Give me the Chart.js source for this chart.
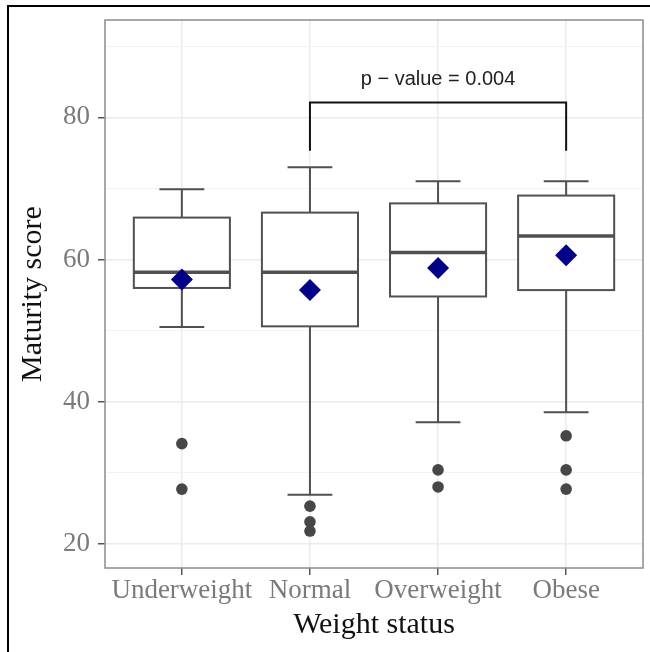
<!DOCTYPE html>
<html>
<head>
<meta charset="utf-8">
<script src="https://cdn.jsdelivr.net/npm/chart.js@4/dist/chart.umd.min.js"></script>
<style>
  html, body { margin: 0; padding: 0; background: #fff; }
  #wrap { position: relative; width: 650px; height: 652px; overflow: hidden; }
  #frame { position: absolute; left: 7px; top: 5px; width: 700px; height: 700px;
           border-left: 2px solid #000; border-top: 2px solid #000; pointer-events: none; }
</style>
</head>
<body>
<div id="wrap">
  <canvas id="chart" width="650" height="652"></canvas>
  <div id="frame"></div>
</div>
<script>
// Box plot data
const categories = ["Underweight", "Normal", "Overweight", "Obese"];
const upperWhisker = [69.9, 73.0, 71.0, 71.0];
const q3 = [65.9, 66.6, 67.9, 69.0];
const median = [58.2, 58.2, 61.0, 63.3];
const q1 = [56.0, 50.6, 54.8, 55.7];
const lowerWhisker = [50.5, 26.9, 37.1, 38.5];
const means = [57.2, 55.7, 58.8, 60.6];
const outliers = [[34.1, 27.7], [25.3, 23.1, 21.8], [30.4, 28.0], [35.2, 30.4, 27.7]];

// axis ticks
const yMajorTicks = [20, 40, 60, 80];
const yMinorTicks = [30, 50, 70, 90];

// significance bracket
const bracketFrom = 1;
const bracketTo = 3;
const bracketTop = 82.1;
const bracketBottom = 75.3;
const pLabel = "p \u2212 value = 0.004";
const pLabelY = 85.4;

const serif = "'Liberation Serif', 'Times New Roman', serif";
const boxColor = "#505050";

// Draws boxes, whiskers and medians using the chart's scales
const boxPlugin = {
  id: "boxes",
  beforeDatasetsDraw(chart) {
    const { ctx, scales: { x, y } } = chart;
    const unit = x.getPixelForValue(1) - x.getPixelForValue(0);
    const halfBox = unit * 0.375;
    const halfCap = unit * 0.175;
    ctx.save();
    ctx.strokeStyle = boxColor;
    categories.forEach((c, i) => {
      const cx = x.getPixelForValue(i);
      const yUp = y.getPixelForValue(upperWhisker[i]);
      const yQ3 = y.getPixelForValue(q3[i]);
      const yMed = y.getPixelForValue(median[i]);
      const yQ1 = y.getPixelForValue(q1[i]);
      const yLo = y.getPixelForValue(lowerWhisker[i]);

      // whiskers
      ctx.lineWidth = 2;
      ctx.beginPath();
      ctx.moveTo(cx, yQ3); ctx.lineTo(cx, yUp);
      ctx.moveTo(cx, yQ1); ctx.lineTo(cx, yLo);
      ctx.moveTo(cx - halfCap, yUp); ctx.lineTo(cx + halfCap, yUp);
      ctx.moveTo(cx - halfCap, yLo); ctx.lineTo(cx + halfCap, yLo);
      ctx.stroke();

      // box
      ctx.fillStyle = "#fff";
      ctx.fillRect(cx - halfBox, yQ3, halfBox * 2, yQ1 - yQ3);
      ctx.lineWidth = 2;
      ctx.strokeRect(cx - halfBox, yQ3, halfBox * 2, yQ1 - yQ3);

      // median
      ctx.lineWidth = 3.5;
      ctx.beginPath();
      ctx.moveTo(cx - halfBox, yMed); ctx.lineTo(cx + halfBox, yMed);
      ctx.stroke();
    });
    ctx.restore();
  },
  afterDatasetsDraw(chart) {
    const { ctx, chartArea, scales: { x, y } } = chart;
    ctx.save();
    // bracket
    const x1 = x.getPixelForValue(bracketFrom);
    const x2 = x.getPixelForValue(bracketTo);
    const yt = y.getPixelForValue(bracketTop);
    const yb = y.getPixelForValue(bracketBottom);
    ctx.strokeStyle = "#111";
    ctx.lineWidth = 2;
    ctx.beginPath();
    ctx.moveTo(x1, yb); ctx.lineTo(x1, yt); ctx.lineTo(x2, yt); ctx.lineTo(x2, yb);
    ctx.stroke();
    ctx.fillStyle = "#222";
    ctx.font = "20px 'Liberation Sans', Arial, sans-serif";
    ctx.textAlign = "center";
    ctx.textBaseline = "middle";
    ctx.fillText(pLabel, (x1 + x2) / 2, y.getPixelForValue(pLabelY));

    // panel border
    ctx.strokeStyle = "#8c8c8c";
    ctx.lineWidth = 1.5;
    ctx.strokeRect(chartArea.left, chartArea.top, chartArea.right - chartArea.left, chartArea.bottom - chartArea.top);
    ctx.restore();
  }
};

// keep tick labels from pushing the plot area around
const noScalePadding = (s) => {
  s.paddingLeft = 0; s.paddingRight = 0; s.paddingTop = 0; s.paddingBottom = 0;
};

const outlierPoints = [];
outliers.forEach((vals, i) => vals.forEach(v => outlierPoints.push({ x: i, y: v })));
const meanPoints = means.map((v, i) => ({ x: i, y: v }));

new Chart(document.getElementById("chart"), {
  type: "scatter",
  data: {
    datasets: [
      {
        label: "Outliers",
        data: outlierPoints,
        pointRadius: 5.8,
        pointBackgroundColor: "#474747",
        pointBorderWidth: 0,
      },
      {
        label: "Mean",
        data: meanPoints,
        pointStyle: "rectRot",
        pointRadius: 11,
        pointBackgroundColor: "#00008b",
        pointBorderWidth: 0,
      },
    ],
  },
  options: {
    responsive: false,
    animation: false,
    layout: { autoPadding: false, padding: { left: 10, right: 7, top: 20, bottom: 0 } },
    plugins: { legend: { display: false }, tooltip: { enabled: false } },
    scales: {
      x: {
        type: "linear",
        min: -0.6,
        max: categories.length - 1 + 0.6,
        afterBuildTicks: (s) => { s.ticks = categories.map((c, i) => ({ value: i })); },
        afterFit: (s) => { s.height = 84; noScalePadding(s); },
        ticks: {
          callback: (v) => categories[v],
          color: "#7a7a7a",
          font: { family: serif, size: 27 },
          padding: 0,
          maxRotation: 0,
          autoSkip: false,
        },
        grid: { color: "#ebebeb", lineWidth: 1.5, tickLength: 7, tickColor: "#555", tickWidth: 1.5 },
        border: { display: false },
        title: {
          display: true,
          text: "Weight status",
          color: "#111",
          font: { family: serif, size: 30 },
          padding: { top: 0, bottom: 9 },
        },
      },
      y: {
        min: 16.6,
        max: 93.7,
        afterBuildTicks: (s) => {
          s.ticks = yMajorTicks.concat(yMinorTicks).sort((a, b) => a - b).map(v => ({ value: v }));
        },
        afterFit: (s) => { s.width = 95; noScalePadding(s); },
        ticks: {
          callback: (v) => (yMajorTicks.includes(v) ? String(v) : ""),
          color: "#7a7a7a",
          font: { family: serif, size: 27 },
          padding: 8,
        },
        grid: {
          color: (c) => (c.tick && yMajorTicks.includes(c.tick.value) ? "#ebebeb" : "#f3f3f3"),
          lineWidth: (c) => (c.tick && yMajorTicks.includes(c.tick.value) ? 1.5 : 1),
          tickLength: 7,
          tickColor: (c) => (c.tick && yMajorTicks.includes(c.tick.value) ? "#555" : "rgba(0,0,0,0)"),
          tickWidth: 1.5,
        },
        border: { display: false },
        title: {
          display: true,
          text: "Maturity score",
          color: "#111",
          font: { family: serif, size: 30 },
          padding: { top: 5, bottom: 0 },
        },
      },
    },
  },
  plugins: [boxPlugin],
});
</script>
</body>
</html>
